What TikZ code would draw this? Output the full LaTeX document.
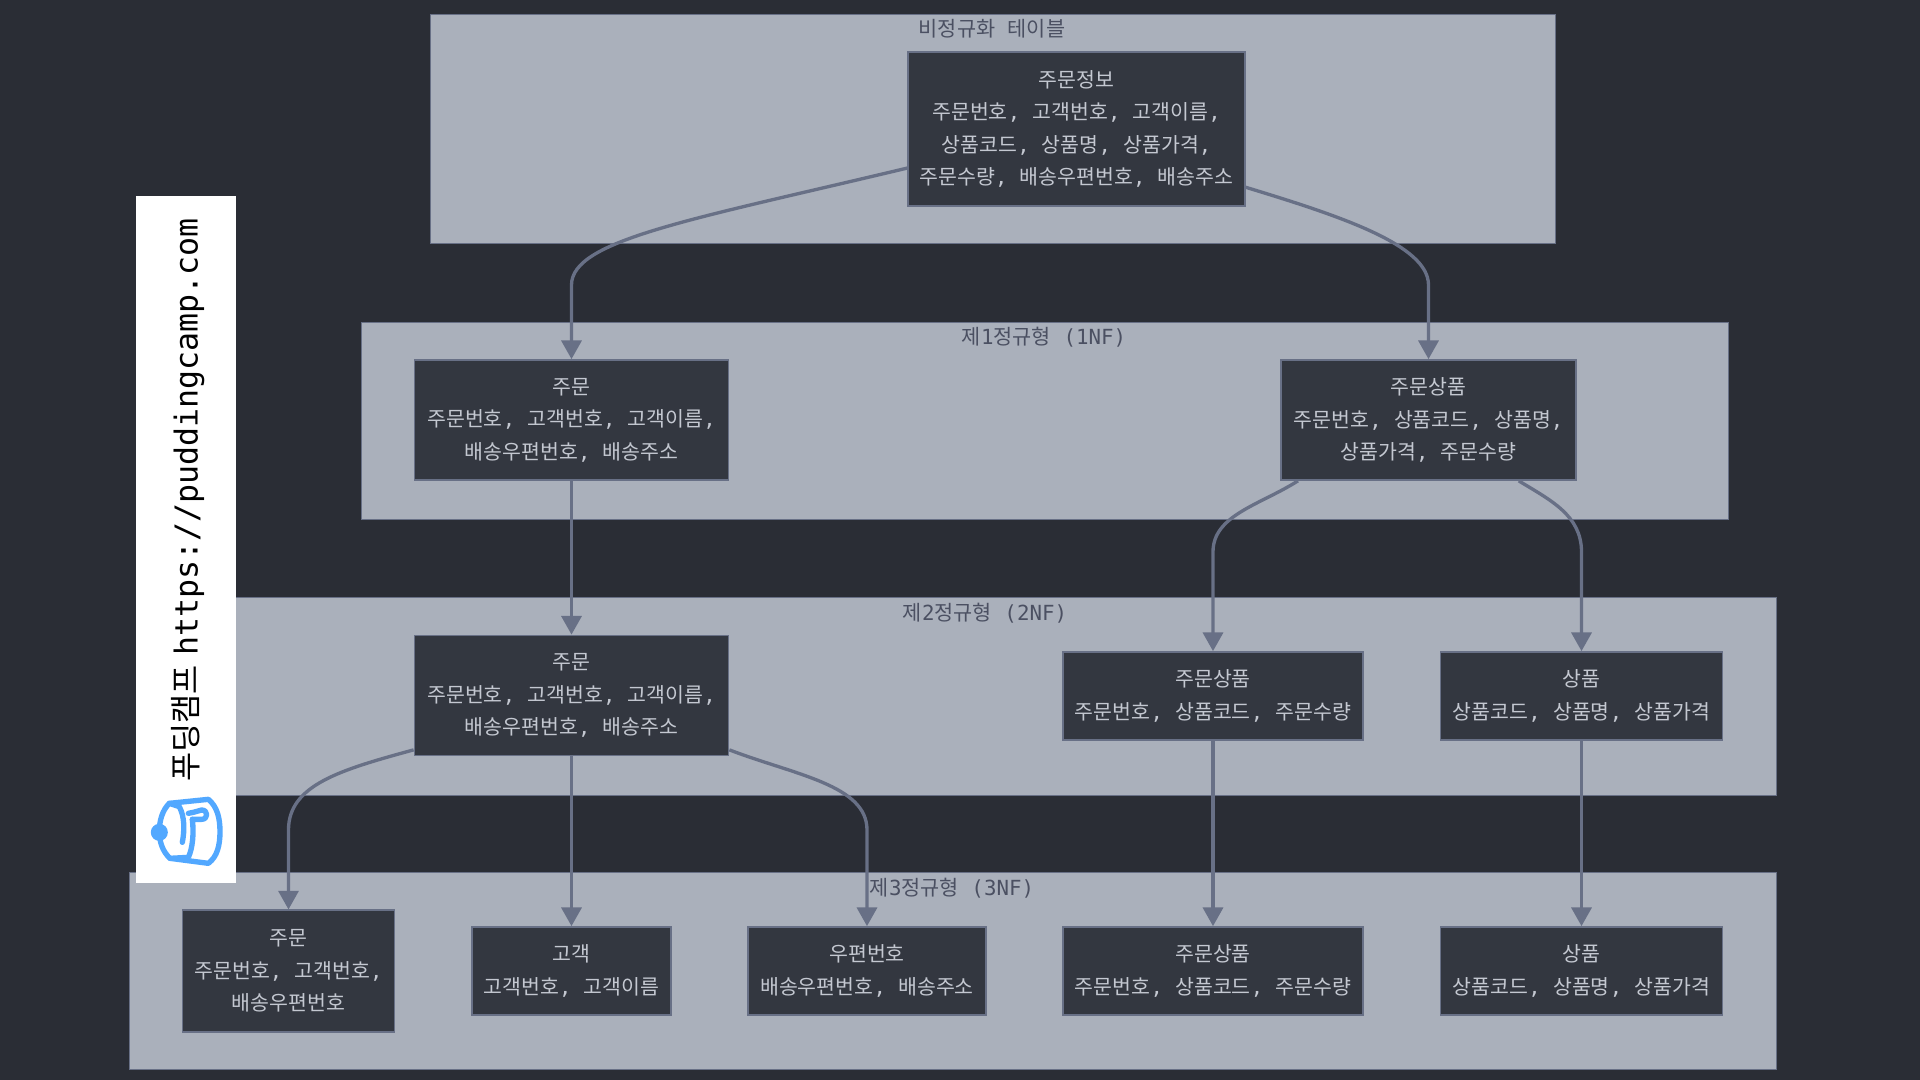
\documentclass[tikz,border=0pt]{standalone}
\usepackage{fontspec}
\usetikzlibrary{arrows.meta}
\setmainfont{DejaVu Sans Mono}
\newfontfamily\cjk{Noto Sans CJK KR}
\newcommand{\hg}[1]{{\cjk #1}}
\definecolor{bgc}{HTML}{2A2D35}
\definecolor{clc}{HTML}{AAB0BB}
\definecolor{ndc}{HTML}{333740}
\definecolor{edc}{HTML}{687086}
\definecolor{txc}{HTML}{C4C8D1}
\definecolor{lbc}{HTML}{4B5062}
\definecolor{logoc}{HTML}{52A8FF}
\tikzset{
  x=0.75pt,y=-0.75pt,
  cluster/.style={draw=edc,line width=1.1pt,fill=clc,anchor=north west,inner sep=0pt},
  lbl/.style={text=lbc,inner sep=0pt,font=\fontsize{15.6}{18}\selectfont},
  tbl/.style={draw=edc,line width=1.3pt,fill=ndc,text=txc,inner sep=0pt,align=center,font=\fontsize{15.4}{24.4}\selectfont},
  headroom/.style={execute at begin node={\rule{0pt}{#1}}},
  conn/.style={draw=edc,line width=2.5pt,-{Triangle[length=14pt,width=15pt]}},
}
\newcommand{\clusterbox}[5]{\node[cluster,minimum width=#4*0.75pt,minimum height=#5*0.75pt] (#1) at (#2,#3) {};}
\begin{document}
\begin{tikzpicture}
\useasboundingbox (0,0) rectangle (1920,1080);
\fill[bgc] (0,0) rectangle (1920,1080);
% clusters
\clusterbox{c0}{429.5}{14}{1125}{229}
\clusterbox{c1}{360.5}{322}{1367}{197}
\clusterbox{c2}{200}{597}{1576}{198}
\clusterbox{c3}{128.5}{872}{1647}{197}
\node[lbl] (l0) at (992,29) {\hg{비정규화}~\hg{테이블}};
\node[lbl] (l1) at (1044,337) {\hg{제}1\hg{정규형}~(1NF)};
\node[lbl] (l2) at (985,613) {\hg{제}2\hg{정규형}~(2NF)};
\node[lbl] (l3) at (952,888) {\hg{제}3\hg{정규형}~(3NF)};
% tables
\node[tbl,minimum width=252.5pt,minimum height=115.5pt] (t) at (1076.5,129) {\hg{주문정보}\\\hg{주문번호}, \hg{고객번호}, \hg{고객이름},\\\hg{상품코드}, \hg{상품명}, \hg{상품가격},\\\hg{주문수량}, \hg{배송우편번호}, \hg{배송주소}};
\node[tbl,headroom=19pt,minimum width=235.5pt,minimum height=90pt] (a1) at (571.5,420) {\hg{주문}\\\hg{주문번호}, \hg{고객번호}, \hg{고객이름},\\\hg{배송우편번호}, \hg{배송주소}};
\node[tbl,headroom=19pt,minimum width=221.25pt,minimum height=90pt] (b1) at (1428.5,420) {\hg{주문상품}\\\hg{주문번호}, \hg{상품코드}, \hg{상품명},\\\hg{상품가격}, \hg{주문수량}};
\node[tbl,headroom=19pt,minimum width=235.5pt,minimum height=90pt] (a2) at (571.5,695.5) {\hg{주문}\\\hg{주문번호}, \hg{고객번호}, \hg{고객이름},\\\hg{배송우편번호}, \hg{배송주소}};
\node[tbl,headroom=18pt,minimum width=225pt,minimum height=66pt] (b2) at (1213,696) {\hg{주문상품}\\\hg{주문번호}, \hg{상품코드}, \hg{주문수량}};
\node[tbl,headroom=18pt,minimum width=211.5pt,minimum height=66pt] (p2) at (1581.5,696) {\hg{상품}\\\hg{상품코드}, \hg{상품명}, \hg{상품가격}};
\node[tbl,headroom=19pt,minimum width=159pt,minimum height=91pt] (a3) at (288.5,971) {\hg{주문}\\\hg{주문번호}, \hg{고객번호},\\\hg{배송우편번호}};
\node[tbl,headroom=18pt,minimum width=149pt,minimum height=66pt] (k3) at (571.5,971) {\hg{고객}\\\hg{고객번호}, \hg{고객이름}};
\node[tbl,headroom=18pt,minimum width=178.5pt,minimum height=66pt] (z3) at (867,971) {\hg{우편번호}\\\hg{배송우편번호}, \hg{배송주소}};
\node[tbl,headroom=18pt,minimum width=225pt,minimum height=66pt] (b3) at (1213,971) {\hg{주문상품}\\\hg{주문번호}, \hg{상품코드}, \hg{주문수량}};
\node[tbl,headroom=18pt,minimum width=211.5pt,minimum height=66pt] (p3) at (1581.5,971) {\hg{상품}\\\hg{상품코드}, \hg{상품명}, \hg{상품가격}};
% connectors
\draw[conn] (t.193) .. controls (690,220) and (571.5,240) .. (571.5,285) -- (a1.north);
\draw[conn] (t.341.4) .. controls (1340,216) and (1428.5,245) .. (1428.5,285) -- (b1.north);
\draw[conn] (a1.south) -- (a2.north);
\draw[conn] (b1.205.6) .. controls (1260,505) and (1213,515) .. (1213,552) -- (b2.north);
\draw[conn] (b1.-34.1) .. controls (1550,500) and (1581.5,515) .. (1581.5,552) -- (p2.north);
\draw[conn] (a2.199.5) .. controls (340,770) and (288.5,785) .. (288.5,830) -- (a3.north);
\draw[conn] (a2.south) -- (k3.north);
\draw[conn] (a2.-19.1) .. controls (795,775) and (867,785) .. (867,830) -- (z3.north);
\draw[conn] (b2.south) -- (b3.north);
\draw[conn] (p2.south) -- (p3.north);
% watermark
\fill[white] (136,196) rectangle (236,883);
\node[rotate=90,inner sep=0pt,text=black,font=\fontsize{23.7}{24}\selectfont] (wm) at (188,500) {\hg{푸딩캠프}\hspace{7.5pt}https://puddingcamp.com};
\begin{scope}[shift={(140,780)},x=0.25pt,y=-0.25pt,logoc,line width=4pt,line cap=round,line join=round]
\fill (58,157) circle (6.4pt);
\draw (88,70) -- (205,58) .. controls (232,80) and (240,115) .. (240,155) .. controls (240,195) and (232,230) .. (205,250) -- (90,235) .. controls (68,215) and (58,185) .. (58,155) .. controls (58,120) and (68,90) .. (88,70) -- cycle;
\draw (88,70) -- (118,80) .. controls (134,110) and (134,150) .. (127,187);
\draw (90,235) -- (145,232) .. controls (158,205) and (162,160) .. (157,118);
\draw (145,100) -- (160,97) -- (185,90) .. controls (205,90) and (205,118) .. (185,118) -- (157,118);
\end{scope}
\end{tikzpicture}
\end{document}
